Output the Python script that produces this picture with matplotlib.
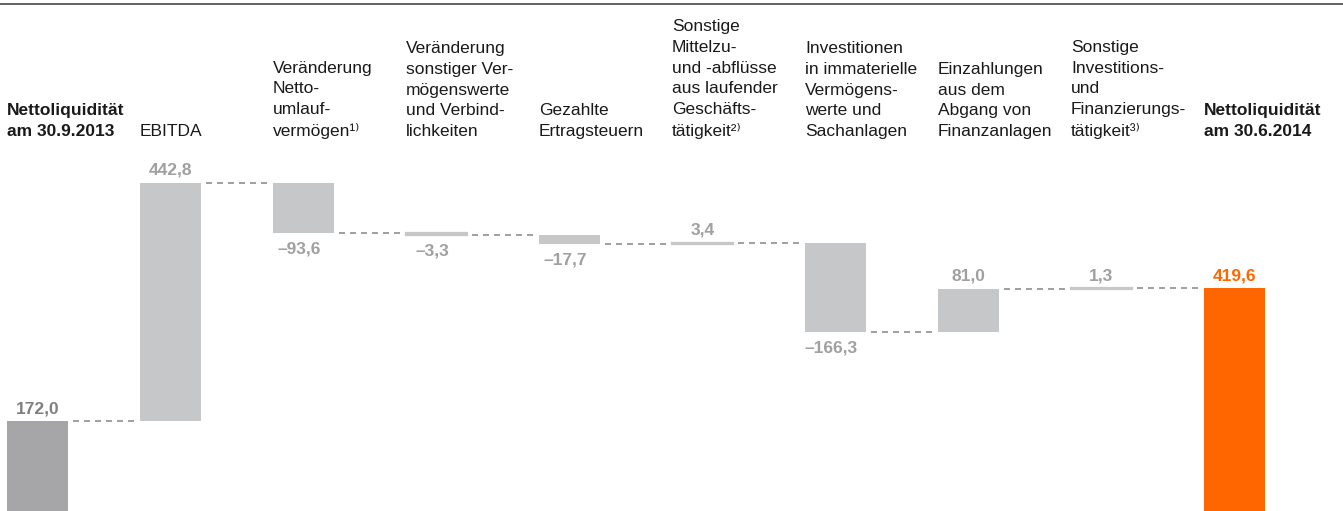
import matplotlib.pyplot as plt

plt.rcParams['font.family'] = ['Liberation Sans', 'DejaVu Sans']

# data
categories = [
    'Nettoliquidität\nam 30.9.2013',
    'EBITDA',
    'Veränderung\nNetto-\numlauf-\nvermögen¹⁾',
    'Veränderung\nsonstiger Ver-\nmögenswerte\nund Verbind-\nlichkeiten',
    'Gezahlte\nErtragsteuern',
    'Sonstige\nMittelzu-\nund -abflüsse\naus laufender\nGeschäfts-\ntätigkeit²⁾',
    'Investitionen\nin immaterielle\nVermögens-\nwerte und\nSachanlagen',
    'Einzahlungen\naus dem\nAbgang von\nFinanzanlagen',
    'Sonstige\nInvestitions-\nund\nFinanzierungs-\ntätigkeit³⁾',
    'Nettoliquidität\nam 30.6.2014',
]
start_value = 172.0
changes = [442.8, -93.6, -3.3, -17.7, 3.4, -166.3, 81.0, 1.3]
end_value = 419.6

def fmt(v):
    s = f'{abs(v):.1f}'.replace('.', ',')
    return ('–' + s) if v < 0 else s

fig = plt.figure(figsize=(13.43, 5.11), dpi=100)
ax = fig.add_axes([0, 0, 1, 1])
ax.set_xlim(-0.282, 9.816)
ax.set_ylim(6.1, 953.1)
ax.axis('off')

w = 0.46
c_start = '#a6a6a8'
c_mid = '#c6c7c8'
c_end = '#ff6600'
c_lbl = '#a0a0a0'
c_dash = '#8f8f8f'
fs = 12.5

# top rule
ax.axhline(945.7, color='#555555', lw=1.3)

# start bar
ax.bar(0, start_value, width=w, color=c_start)
ax.annotate(fmt(start_value), (0, start_value), xytext=(0, 3.5), textcoords='offset points',
            ha='center', va='bottom', fontsize=fs, fontweight='bold', color='#7f7f7f')

level = start_value
gap = 0.035
for i, ch in enumerate(changes, start=1):
    new = level + ch
    ax.plot([i - 1 + w / 2 + gap, i - w / 2 - gap], [level, level], color=c_dash,
            lw=1.2, dashes=(3.6, 3.0))
    # tiny changes get an outline so they stay visible, as in the original
    small = abs(ch) < 10
    ax.bar(i, ch, bottom=level, width=w, color=c_mid,
           edgecolor=c_mid if small else 'none', linewidth=1.6 if small else 0)
    if ch >= 0:
        ax.annotate(fmt(ch), (i, new), xytext=(0, 3.5), textcoords='offset points',
                    ha='center', va='bottom', fontsize=fs, fontweight='bold', color=c_lbl)
    else:
        ax.annotate(fmt(ch), (i, new), xytext=(-3, -6), textcoords='offset points',
                    ha='center', va='top', fontsize=fs, fontweight='bold', color=c_lbl)
    level = new

n = len(categories) - 1
ax.plot([n - 1 + w / 2 + gap, n - w / 2 - gap], [level, level], color=c_dash,
        lw=1.2, dashes=(3.6, 3.0))
ax.bar(n, end_value, width=w, color=c_end)
ax.annotate(fmt(end_value), (n, end_value), xytext=(0, 3.5), textcoords='offset points',
            ha='center', va='bottom', fontsize=fs, fontweight='bold', color=c_end)

# headers
for i, cat in enumerate(categories):
    bold = i == 0 or i == n
    ax.text(i - w / 2, 1 - 139 / 511, cat, transform=ax.get_xaxis_transform(),
            ha='left', va='bottom', fontsize=fs, linespacing=1.47,
            fontweight='bold' if bold else 'normal', color='#1a1a1a')

fig.savefig('out.png', dpi=100)
